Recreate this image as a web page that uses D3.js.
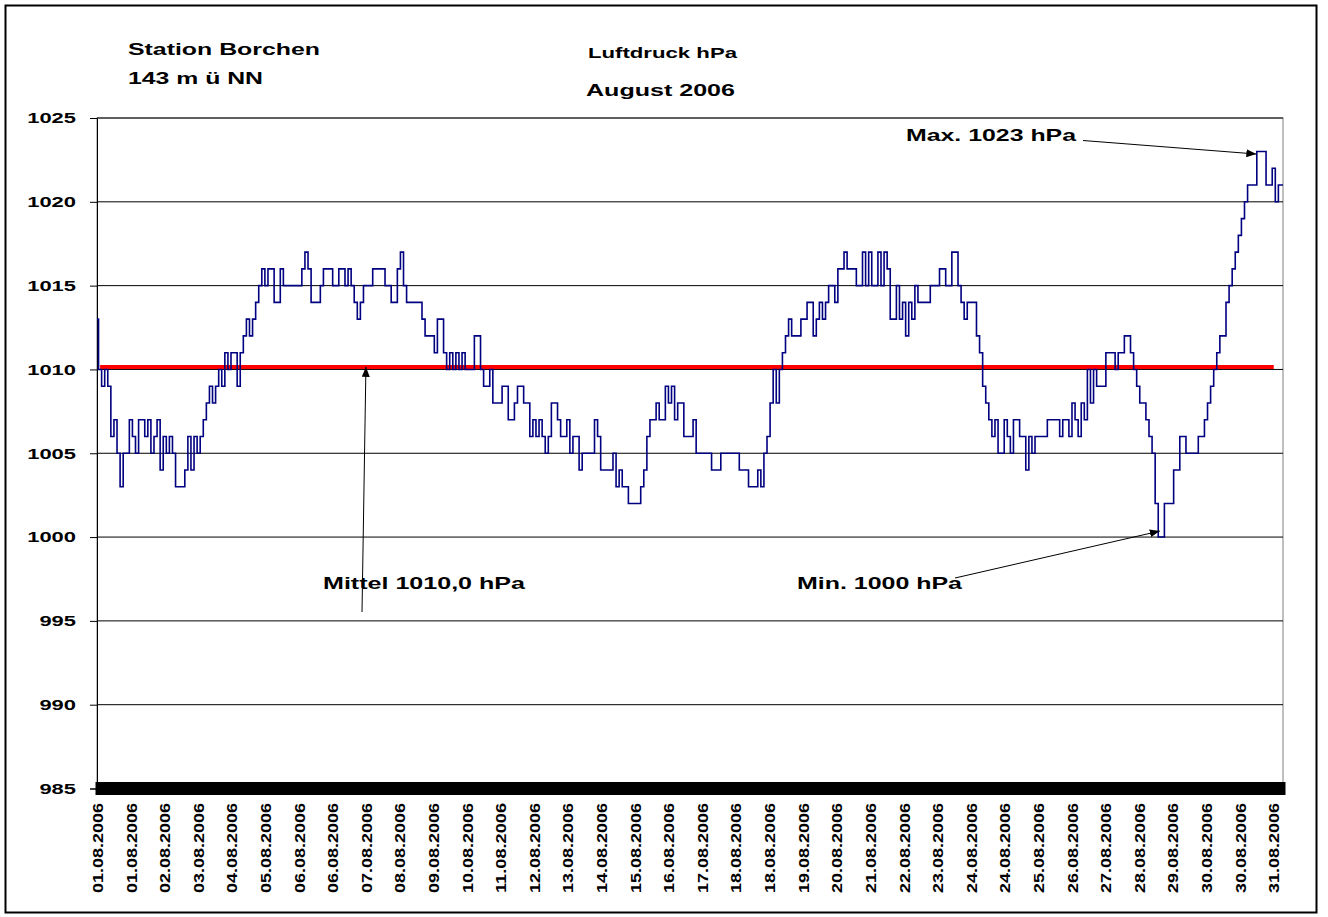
<!DOCTYPE html>
<html>
<head>
<meta charset="utf-8">
<script src="https://cdn.jsdelivr.net/npm/d3@7"></script>
<style>
  body { margin: 0; background: #fff; }
  text { font-family: "Liberation Sans", Arial, sans-serif; font-weight: bold; fill: #000; }
</style>
</head>
<body>
<div id="js-canvas"></div>
<script>
"use strict";

// Luftdruck in hPa, one reading per entry, 01.08. - 31.08.2006.
const pressure = [
  1013, 1010, 1009, 1010, 1009, 1006, 1007, 1005, 1003, 1005,
  1005, 1007, 1006, 1005, 1007, 1007, 1006, 1007, 1005, 1006,
  1007, 1004, 1006, 1005, 1006, 1005, 1003, 1003, 1003, 1004,
  1006, 1004, 1006, 1005, 1006, 1007, 1008, 1009, 1008, 1009,
  1010, 1009, 1011, 1010, 1011, 1011, 1009, 1011, 1012, 1013,
  1012, 1013, 1014, 1015, 1016, 1015, 1016, 1016, 1014, 1014,
  1016, 1015, 1015, 1015, 1015, 1015, 1015, 1016, 1017, 1016,
  1014, 1014, 1014, 1015, 1016, 1016, 1016, 1015, 1015, 1016,
  1016, 1015, 1016, 1015, 1014, 1013, 1014, 1015, 1015, 1015,
  1016, 1016, 1016, 1016, 1015, 1015, 1014, 1014, 1016, 1017,
  1015, 1014, 1014, 1014, 1014, 1014, 1013, 1012, 1012, 1012,
  1011, 1013, 1013, 1011, 1010, 1011, 1010, 1011, 1010, 1011,
  1010, 1010, 1010, 1012, 1012, 1010, 1009, 1009, 1010, 1008,
  1008, 1008, 1009, 1009, 1007, 1007, 1008, 1009, 1009, 1008,
  1008, 1006, 1007, 1006, 1007, 1006, 1005, 1006, 1008, 1008,
  1007, 1006, 1006, 1007, 1005, 1006, 1006, 1004, 1005, 1005,
  1005, 1005, 1007, 1006, 1004, 1004, 1004, 1004, 1005, 1003,
  1004, 1003, 1003, 1002, 1002, 1002, 1002, 1003, 1004, 1006,
  1007, 1007, 1008, 1007, 1007, 1009, 1008, 1009, 1007, 1008,
  1008, 1006, 1006, 1006, 1007, 1005, 1005, 1005, 1005, 1005,
  1004, 1004, 1004, 1005, 1005, 1005, 1005, 1005, 1005, 1004,
  1004, 1004, 1003, 1003, 1003, 1004, 1003, 1005, 1006, 1008,
  1010, 1008, 1010, 1011, 1012, 1013, 1012, 1012, 1012, 1013,
  1013, 1014, 1014, 1012, 1013, 1014, 1013, 1014, 1015, 1015,
  1014, 1016, 1016, 1017, 1016, 1016, 1016, 1015, 1015, 1017,
  1015, 1017, 1015, 1015, 1017, 1015, 1017, 1016, 1013, 1013,
  1015, 1013, 1014, 1012, 1014, 1013, 1015, 1014, 1014, 1014,
  1014, 1015, 1015, 1015, 1016, 1016, 1015, 1015, 1017, 1017,
  1015, 1014, 1013, 1014, 1014, 1014, 1012, 1011, 1009, 1008,
  1007, 1006, 1007, 1005, 1005, 1007, 1006, 1005, 1007, 1007,
  1006, 1006, 1004, 1006, 1005, 1006, 1006, 1006, 1006, 1007,
  1007, 1007, 1007, 1006, 1007, 1007, 1006, 1008, 1007, 1006,
  1008, 1007, 1010, 1008, 1010, 1009, 1009, 1009, 1011, 1011,
  1011, 1010, 1011, 1011, 1012, 1012, 1011, 1010, 1009, 1008,
  1008, 1007, 1006, 1005, 1002, 1000, 1000, 1002, 1002, 1002,
  1004, 1004, 1006, 1006, 1005, 1005, 1005, 1005, 1006, 1006,
  1007, 1008, 1009, 1010, 1011, 1012, 1012, 1014, 1015, 1016,
  1017, 1018, 1019, 1020, 1021, 1021, 1021, 1023, 1023, 1023,
  1021, 1021, 1022, 1020, 1021, 1021
];

const dayLabels = [
  "01.08.2006", "01.08.2006", "02.08.2006", "03.08.2006", "04.08.2006",
  "05.08.2006", "06.08.2006", "06.08.2006", "07.08.2006", "08.08.2006",
  "09.08.2006", "10.08.2006", "11.08.2006", "12.08.2006", "13.08.2006",
  "14.08.2006", "15.08.2006", "16.08.2006", "17.08.2006", "18.08.2006",
  "18.08.2006", "19.08.2006", "20.08.2006", "21.08.2006", "22.08.2006",
  "23.08.2006", "24.08.2006", "24.08.2006", "25.08.2006", "26.08.2006",
  "27.08.2006", "28.08.2006", "29.08.2006", "30.08.2006", "30.08.2006",
  "31.08.2006"
];

const yTicks = [985, 990, 995, 1000, 1005, 1010, 1015, 1020, 1025];

// Mittelwert, as drawn (the red line sits a hair above the 1010 grid line).
const meanPressure = 1010.15;

// Readings between two date labels on the category axis.
const readingsPerLabel = 10.91;

const width = 1328;
const height = 917;
const plot = { left: 97, right: 1283, top: 118, bottom: 788.5 };

function createCanvas(w, h) {
  return d3.select("#js-canvas")
    .append("svg")
      .attr("width", w)
      .attr("height", h);
}

function addText(svg, s, x, y, size, len) {
  return svg.append("text")
    .attr("x", x)
    .attr("y", y)
    .attr("font-size", size)
    .attr("textLength", len)
    .attr("lengthAdjust", "spacingAndGlyphs")
    .text(s);
}

function addArrowMarker(svg) {
  svg.append("defs").append("marker")
    .attr("id", "arrow")
    .attr("viewBox", "0 0 10 8")
    .attr("refX", 10)
    .attr("refY", 4)
    .attr("markerWidth", 10)
    .attr("markerHeight", 8)
    .attr("markerUnits", "userSpaceOnUse")
    .attr("orient", "auto")
    .append("path")
      .attr("d", "M0,0 L10,4 L0,8 Z")
      .attr("fill", "#000");
}

function drawArrow(svg, x1, y1, x2, y2) {
  svg.append("line")
    .attr("x1", x1).attr("y1", y1)
    .attr("x2", x2).attr("y2", y2)
    .attr("stroke", "#000")
    .attr("stroke-width", 1)
    .attr("marker-end", "url(#arrow)");
}

const svg = createCanvas(width, height);
addArrowMarker(svg);

// outer frame
svg.append("rect")
  .attr("x", 5.5).attr("y", 5.5)
  .attr("width", 1311).attr("height", 907)
  .attr("fill", "none")
  .attr("stroke", "#000")
  .attr("stroke-width", 2);

const x = d3.scaleLinear()
  .domain([0, pressure.length - 1])
  .range([plot.left, plot.right]);

const y = d3.scaleLinear()
  .domain([985, 1025])
  .range([plot.bottom, plot.top]);

// plot border (top and right are grey in the original)
svg.append("rect")
  .attr("x", plot.left).attr("y", plot.top)
  .attr("width", plot.right - plot.left)
  .attr("height", plot.bottom - plot.top)
  .attr("fill", "none")
  .attr("stroke", "#808080")
  .attr("stroke-width", 1);

// gridlines
svg.append("g")
  .selectAll("line")
  .data(yTicks)
  .enter()
  .append("line")
    .attr("x1", plot.left)
    .attr("x2", plot.right)
    .attr("y1", function (d) { return y(d); })
    .attr("y2", function (d) { return y(d); })
    .attr("stroke", "#000")
    .attr("stroke-width", 1);

// y axis
const yAxis = svg.append("g")
  .attr("transform", "translate(" + plot.left + ",0)")
  .call(d3.axisLeft(y)
          .tickValues(yTicks)
          .tickSize(7)
          .tickPadding(14)
          .tickFormat(d3.format("d")));
yAxis.select(".domain").attr("stroke", "#000");
yAxis.selectAll(".tick line").attr("stroke", "#000");
yAxis.selectAll("text")
  .attr("font-size", 15)
  .attr("font-family", null)
  .attr("textLength", function (d) { return String(d).length * 12.2; })
  .attr("lengthAdjust", "spacingAndGlyphs");

// category ticks: one per reading, so dense that they form a black band
const tickAxis = svg.append("g")
  .attr("transform", "translate(0," + (plot.bottom - 6.5) + ")")
  .call(d3.axisBottom(x)
          .tickValues(d3.range(pressure.length))
          .tickSize(13)
          .tickFormat(""));
tickAxis.select(".domain").remove();
tickAxis.selectAll(".tick line")
  .attr("stroke", "#000")
  .attr("stroke-width", 4);

// date labels
const labelIdx = dayLabels.map(function (_, i) { return i * readingsPerLabel; });
const labelAxis = svg.append("g")
  .attr("transform", "translate(0," + plot.bottom + ")")
  .call(d3.axisBottom(x)
          .tickValues(labelIdx)
          .tickSize(0)
          .tickFormat(function (_, i) { return dayLabels[i]; }));
labelAxis.select(".domain").remove();
labelAxis.selectAll("text")
  .attr("font-size", 15)
  .attr("font-family", null)
  .attr("transform", "rotate(-90)")
  .attr("text-anchor", "end")
  .attr("x", -14.5)
  .attr("y", 0)
  .attr("dy", "0.36em")
  .attr("textLength", 90)
  .attr("lengthAdjust", "spacingAndGlyphs");

// mean line
const meanIdx = d3.range(1, pressure.length - 3);
svg.append("path")
  .datum(meanIdx)
  .attr("fill", "none")
  .attr("stroke", "#ff0000")
  .attr("stroke-width", 4)
  .attr("d", d3.line()
    .x(function (d) { return x(d); })
    .y(function () { return y(meanPressure); }));

// pressure series, readings are whole hPa so the trace is stepped
svg.append("path")
  .datum(pressure)
  .attr("fill", "none")
  .attr("stroke", "#000080")
  .attr("stroke-width", 1.6)
  .attr("d", d3.line()
    .curve(d3.curveStep)
    .x(function (d, i) { return x(i); })
    .y(function (d) { return y(d); }));

// titles
addText(svg, "Station Borchen", 128, 55, 17, 192);
addText(svg, "143 m ü NN", 128, 84, 17, 135);
addText(svg, "Luftdruck hPa", 588, 58, 14, 149);
addText(svg, "August 2006", 586, 96, 17, 149);

// annotations
const maxIdx = pressure.indexOf(d3.max(pressure));
const minIdx = pressure.indexOf(d3.min(pressure));

addText(svg, "Max. 1023 hPa", 906, 141, 17, 170);
drawArrow(svg, 1083, 140.5, x(maxIdx) - 2, y(d3.max(pressure)) + 2.5);

addText(svg, "Mittel 1010,0 hPa", 323, 589, 17, 202);
drawArrow(svg, 362, 612, x(87.3), y(meanPressure));

addText(svg, "Min. 1000 hPa", 797, 589, 17, 165);
drawArrow(svg, 955, 578, x(minIdx), y(d3.min(pressure)) - 6);
</script>
</body>
</html>
